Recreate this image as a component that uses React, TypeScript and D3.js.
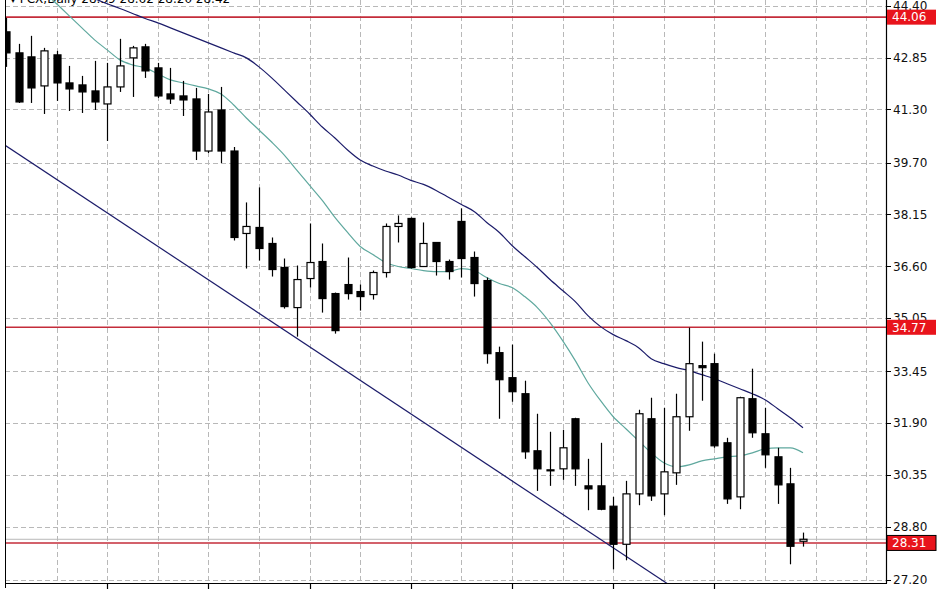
import React from "react";
import * as d3 from "d3";

const W = 948;
const H = 593;
const PL = 5, PR = 886, PT = 0, PB = 583;

const titleText = "\u25BE FCX,Daily  28.39 28.62 28.20 28.42";

const opens = [43.62,42.99,42.87,42.00,42.93,42.09,42.03,41.85,41.46,41.97,42.84,43.17,42.54,41.76,41.70,41.61,40.05,41.28,40.05,37.58,37.76,37.28,36.56,35.36,36.23,36.74,35.78,36.05,35.84,35.75,36.41,37.79,38.03,36.59,37.31,36.74,37.94,36.86,36.17,34.01,33.26,32.78,31.07,30.50,30.53,32.03,30.02,30.02,29.41,28.27,29.78,32.03,29.78,30.41,32.09,33.62,33.68,31.31,29.69,32.63,31.58,30.89,30.08,28.36];
const highs = [44.04,43.26,43.50,43.14,43.05,42.60,42.30,42.75,42.69,43.41,43.20,43.26,42.69,42.54,42.15,41.94,41.76,41.97,40.17,38.51,38.96,37.46,36.83,36.62,37.88,37.28,35.81,36.86,36.05,36.47,37.88,38.12,38.06,37.91,37.31,36.80,38.33,37.04,36.26,34.19,34.25,33.17,32.18,31.64,31.70,32.06,30.83,31.31,29.69,30.17,32.30,32.66,32.36,32.78,34.76,34.34,33.98,31.46,32.69,33.53,32.36,31.16,30.56,28.62];
const lows = [42.57,41.49,41.49,41.16,41.55,41.25,41.19,41.28,40.35,41.82,41.67,42.24,41.64,41.46,41.10,39.78,39.99,39.69,37.37,36.53,36.77,36.29,35.33,34.49,35.96,35.21,34.58,35.60,35.27,35.60,36.26,37.31,36.53,36.59,36.32,36.20,36.26,35.69,33.68,32.03,32.54,30.83,29.87,30.02,30.20,30.02,29.29,29.29,27.52,27.79,29.44,29.57,29.14,30.05,31.67,32.57,31.16,29.48,29.32,31.46,30.56,29.48,27.67,28.20];
const closes = [42.99,41.52,41.94,43.05,42.09,41.91,41.82,41.52,41.97,42.60,43.14,42.45,41.70,41.61,41.58,40.05,41.22,40.05,37.46,37.79,37.13,36.50,35.39,36.20,36.71,35.63,34.67,35.78,35.69,36.41,37.79,37.88,36.56,37.28,36.74,36.44,36.83,36.08,33.98,33.20,32.84,31.04,30.53,30.47,31.16,30.53,29.93,29.32,28.27,29.78,32.18,29.72,30.44,32.09,33.68,33.56,31.22,29.63,32.66,31.61,30.95,30.05,28.21,28.42];

// teal moving average, starting at bar index 3
const maStart = 3;
const maValues = [44.82,44.46,44.10,43.74,43.38,43.08,42.78,42.63,42.54,42.36,42.18,42.09,42.00,41.91,41.76,41.43,41.04,40.68,40.32,39.93,39.47,39.02,38.57,38.06,37.61,37.19,36.95,36.71,36.59,36.53,36.47,36.44,36.44,36.53,36.47,36.26,36.08,35.96,35.69,35.36,34.91,34.37,33.77,33.11,32.57,32.09,31.73,31.37,31.01,30.71,30.59,30.65,30.77,30.83,30.89,30.92,31.01,31.13,31.16,31.16,31.01];

// navy upper line, starting at bar index 6
const upStart = 6;
const upValues = [44.73,44.61,44.46,44.32,44.17,44.02,43.89,43.74,43.59,43.44,43.29,43.14,42.99,42.84,42.57,42.24,41.88,41.52,41.16,40.77,40.44,40.08,39.78,39.60,39.45,39.33,39.17,39.05,38.87,38.66,38.45,38.24,37.91,37.61,37.22,36.89,36.56,36.20,35.87,35.54,35.12,34.79,34.55,34.37,34.16,33.83,33.68,33.56,33.47,33.35,33.23,33.08,32.93,32.78,32.60,32.33,32.06,31.76];

// trend line (bar index, price)
const trendIdx = [-0.1, 52.6];
const trendPrice = [40.23, 27.01];

const levels = [44.06, 34.77, 28.31];
const bidPrice = 28.42;

const yTicks = [44.40, 42.85, 41.30, 39.70, 38.15, 36.60, 35.05, 33.45, 31.90, 30.35, 28.80, 27.20];
const dateLabels = ["28 Feb 2012", "9 Mar 2012", "21 Mar 2012", "2 Apr 2012", "13 Apr 2012", "25 Apr 2012", "7 May 2012", "17 May 2012", "30 May 2012"];

export default function App() {
  const x = d3.scaleLinear().domain([0, 63]).range([6, 803]);
  const y = d3.scaleLinear().domain([27.20, 44.40]).range([580, 5.8]);

  const maLine = d3.line<number>().x((_, i) => x(i + maStart)).y((d) => y(d)).curve(d3.curveMonotoneX);
  const upLine = d3.line<number>().x((_, i) => x(i + upStart)).y((d) => y(d)).curve(d3.curveMonotoneX);

  const vGrid = d3.range(4, 69, 4);
  const bottomTicks = d3.range(8, 64, 8);
  const font = "'DejaVu Sans', Tahoma, sans-serif";

  return (
    <svg width={W} height={H} style={{ position: "absolute", left: 0, top: 0, background: "#fff" }}>
      <defs>
        <clipPath id="plot">
          <rect x={PL} y={PT} width={PR - PL} height={PB - PT} />
        </clipPath>
      </defs>
      <rect x={0} y={0} width={W} height={H} fill="#fff" />
      {/* grid */}
      <g stroke="#b8b8b8" strokeWidth={1} strokeDasharray="5,3" clipPath="url(#plot)">
        {yTicks.map((t) => (
          <line key={"h" + t} x1={PL} x2={PR} y1={Math.round(y(t)) + 0.5} y2={Math.round(y(t)) + 0.5} />
        ))}
        {vGrid.map((g) => (
          <line key={"v" + g} x1={Math.round(x(g)) + 0.5} x2={Math.round(x(g)) + 0.5} y1={PT} y2={PB} />
        ))}
      </g>
      {/* title */}
      <text x={10} y={3} fontFamily={font} fontSize={12} fill="#000">{titleText}</text>
      <g clipPath="url(#plot)">
        {/* bid line */}
        <line x1={PL} x2={PR} y1={y(bidPrice)} y2={y(bidPrice)} stroke="#b8b8b8" strokeWidth={1} />
        {/* horizontal levels */}
        {levels.map((l) => (
          <line key={"l" + l} x1={PL} x2={PR} y1={y(l)} y2={y(l)} stroke="#c42c3a" strokeWidth={1.6} />
        ))}
        {/* trendline */}
        <line x1={x(trendIdx[0])} y1={y(trendPrice[0])} x2={x(trendIdx[1])} y2={y(trendPrice[1])} stroke="#1c1c6a" strokeWidth={1.2} />
        {/* upper line */}
        <path d={upLine(upValues) || ""} fill="none" stroke="#1c1c6a" strokeWidth={1.2} />
        {/* MA */}
        <path d={maLine(maValues) || ""} fill="none" stroke="#5fa89e" strokeWidth={1.2} />
        {/* candles */}
        {opens.map((o, i) => {
          const c = closes[i];
          const cx = Math.round(x(i));
          const top = y(Math.max(o, c));
          const bot = y(Math.min(o, c));
          const bull = c > o;
          return (
            <g key={"c" + i}>
              <line x1={cx + 0.5} x2={cx + 0.5} y1={y(highs[i])} y2={y(lows[i])} stroke="#000" strokeWidth={1.2} />
              <rect x={cx - 3} y={top} width={7} height={Math.max(1, bot - top)} fill={bull ? "#fff" : "#000"} stroke="#000" strokeWidth={1.2} />
            </g>
          );
        })}
      </g>
      {/* borders */}
      <line x1={PL + 0.5} x2={PL + 0.5} y1={0} y2={PB + 5} stroke="#000" strokeWidth={1} />
      <line x1={PR + 0.5} x2={PR + 0.5} y1={0} y2={PB + 0.5} stroke="#000" strokeWidth={1.2} />
      <line x1={PL} x2={PR + 1} y1={PB + 0.5} y2={PB + 0.5} stroke="#000" strokeWidth={1.2} />
      {bottomTicks.map((t) => (
        <line key={"bt" + t} x1={Math.round(x(t)) + 0.5} x2={Math.round(x(t)) + 0.5} y1={PB} y2={PB + 6} stroke="#000" strokeWidth={1.2} />
      ))}
      {[0, ...bottomTicks].map((t, k) => (
        <text key={"dl" + t} x={k === 0 ? 8 : Math.round(x(t)) + 4} y={601} fontFamily={font} fontSize={11} fill="#aaa">
          {dateLabels[k]}
        </text>
      ))}
      {/* y axis */}
      {yTicks.map((t) => (
        <g key={"yt" + t}>
          <line x1={PR} x2={PR + 5} y1={Math.round(y(t)) + 0.5} y2={Math.round(y(t)) + 0.5} stroke="#000" />
          <text x={893} y={y(t)} dy="0.36em" fontFamily={font} fontSize={12} fill="#111">
            {t.toFixed(2)}
          </text>
        </g>
      ))}
      {levels.map((l) => (
        <g key={"lb" + l}>
          <rect x={887} y={y(l) - 7.5} width={49} height={15} fill="#e8141c" stroke={l === 28.31 ? "#000" : "none"} strokeWidth={l === 28.31 ? 1 : 0} />
          <text x={892} y={y(l)} dy="0.36em" fontFamily={font} fontSize={12} fill="#fff">
            {l.toFixed(2)}
          </text>
        </g>
      ))}
    </svg>
  );
}
